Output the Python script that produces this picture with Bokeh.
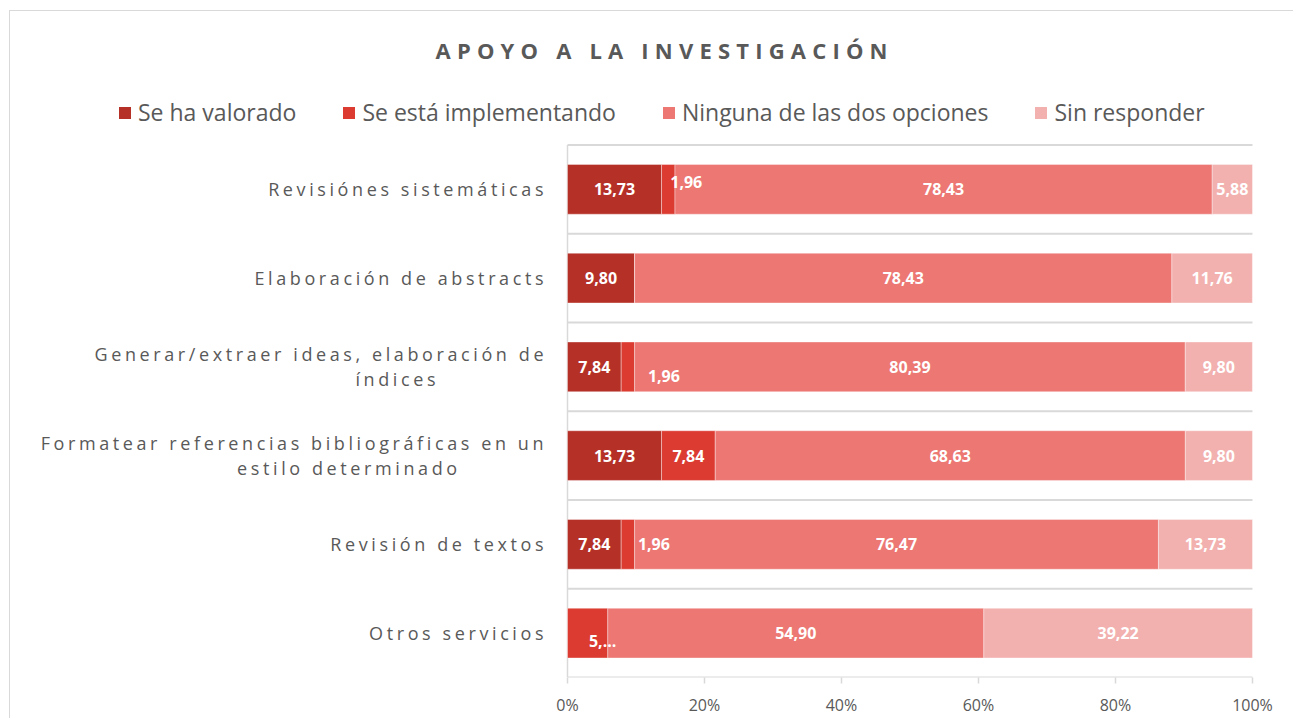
from bokeh.plotting import figure
from bokeh.layouts import column, row
from bokeh.models import Range1d, ColumnDataSource, Legend, LegendItem, FixedTicker
from bokeh.core.properties import value
from bokeh.embed import file_html
from bokeh.resources import INLINE

# ---------------- data ----------------
categories = [
    "Revisiónes sistemáticas",
    "Elaboración de abstracts",
    "Generar/extraer ideas, elaboración de\níndices",
    "Formatear referencias bibliográficas en un\nestilo determinado",
    "Revisión de textos",
    "Otros servicios",
]
series_names = ["Se ha valorado", "Se está implementando",
                "Ninguna de las dos opciones", "Sin responder"]
se_ha_valorado = [13.73, 9.80, 7.84, 13.73, 7.84, 0.0]
se_esta_implementando = [1.96, 0.0, 1.96, 7.84, 1.96, 5.88]
ninguna = [78.43, 78.43, 80.39, 68.63, 76.47, 54.90]
sin_responder = [5.88, 11.76, 9.80, 9.80, 13.73, 39.22]
tick_values = [0, 20, 40, 60, 80, 100]
tick_labels = ["0%", "20%", "40%", "60%", "80%", "100%"]
title_text = "APOYO A LA INVESTIGACIÓN"

# ---------------- styles ----------------
colors = ["#B53128", "#DB3B31", "#EC7773", "#F2B1AF"]
GRAY = "#595959"
LINE = "#D9D9D9"
FONT = "Open Sans"
LS_CAT = 3.6     # letter spacing of category labels (px)
LS_TITLE = 6.2   # letter spacing of the title (px)
# label displacement as drawn in the original: (series, row) -> (dx px, dy px)
label_shift = {(1, 0): (18, -7), (1, 2): (36, 9), (1, 4): (26, 0), (1, 5): (15, 8)}
label_text_override = {(1, 5): "5,..."}

series = [se_ha_valorado, se_esta_implementando, ninguna, sin_responder]
n = len(categories)
ypos = [n - 1 - i for i in range(n)]

ROW_H = 578
TOP_B, BOT_B = 0, 38
Y_RANGE = (-0.5, 5.5504)


def bare(**kw):
    f = figure(output_backend="svg", toolbar_location=None,
               x_axis_type=None, y_axis_type=None, **kw)
    f.outline_line_color = None
    f.xgrid.grid_line_color = None
    f.ygrid.grid_line_color = None
    return f


# ---------------- title ----------------
tfig = bare(width=1283, height=65, x_range=Range1d(0, 1), y_range=Range1d(0, 1),
            min_border_left=0, min_border_right=0, min_border_top=55, min_border_bottom=0)
tfig.styles = {"letter-spacing": f"{LS_TITLE}px"}
tfig.title.text = title_text
tfig.title.align = "left"
tfig.title.offset = 425
tfig.title.text_font = FONT
tfig.title.text_font_size = "22px"
tfig.title.text_font_style = "bold"
tfig.title.text_color = GRAY
tfig.title.standoff = 4

# ---------------- bars ----------------
p = figure(width=740, height=ROW_H, output_backend="svg", toolbar_location=None,
           x_range=Range1d(-0.292, 105.99), y_range=Range1d(*Y_RANGE),
           min_border_left=12, min_border_right=0,
           min_border_top=TOP_B, min_border_bottom=BOT_B)
p.outline_line_color = None
p.xgrid.grid_line_color = None
p.ygrid.grid_line_color = None
p.yaxis.visible = False

seps = [k - 0.5 for k in range(n + 1)]
p.segment(x0=[0] * len(seps), x1=[100] * len(seps), y0=seps, y1=seps,
          line_color=LINE, line_width=2)
p.segment(x0=[0], x1=[0], y0=[-0.5], y1=[n - 0.5], line_color=LINE, line_width=1.5)

bar_sources = []
label_sources = []
left = [0.0] * n
for si, (vals, col) in enumerate(zip(series, colors)):
    right = [l + v for l, v in zip(left, vals)]
    src = ColumnDataSource(dict(y=ypos, left=left, right=right))
    bar_sources.append(src)
    p.hbar(y="y", left="left", right="right", height=0.56, source=src,
           fill_color=col, line_color="white", line_width=0.6, line_alpha=0.6)
    lx, ly, lt, dx, dy = [], [], [], [], []
    for i in range(n):
        if vals[i] <= 0:
            continue
        lx.append((left[i] + right[i]) / 2)
        ly.append(ypos[i])
        lt.append(label_text_override.get((si, i), f"{vals[i]:.2f}".replace(".", ",")))
        sx, sy = label_shift.get((si, i), (0, 0))
        dx.append(sx)
        dy.append(sy)
    label_sources.append(ColumnDataSource(dict(x=lx, y=ly, t=lt, dx=dx, dy=dy)))
    left = right

for lsrc in label_sources:
    p.text(x="x", y="y", text="t", x_offset="dx", y_offset="dy", source=lsrc,
           text_color="white", text_font=value(FONT), text_font_style="bold",
           text_font_size="16px", text_align="center", text_baseline="middle")

ax = p.xaxis[0]
ax.ticker = FixedTicker(ticks=tick_values)
ax.major_label_overrides = {v: l for v, l in zip(tick_values, tick_labels)}
ax.axis_line_color = None
ax.major_tick_line_color = LINE
ax.major_tick_line_width = 1.5
ax.major_tick_out = 6
ax.major_tick_in = 0
ax.minor_tick_line_color = None
ax.major_label_text_font = FONT
ax.major_label_text_font_size = "16px"
ax.major_label_text_color = GRAY
ax.major_label_standoff = 10

# ---------------- category labels ----------------
cfig = bare(width=543, height=ROW_H, x_range=Range1d(0, 543), y_range=Range1d(*Y_RANGE),
            min_border_left=0, min_border_right=0,
            min_border_top=TOP_B, min_border_bottom=BOT_B)
cfig.styles = {"letter-spacing": f"{LS_CAT}px"}
first_len = [len(c.split("\n")[0]) for c in categories]
csrc = ColumnDataSource(dict(x=[533] * n, y=ypos, t=categories,
                             dx=[-(k - 1) * LS_CAT for k in first_len]))
cfig.text(x="x", y="y", text="t", x_offset="dx", source=csrc, text_color=GRAY,
          text_font=value(FONT), text_font_size="18px", text_align="right",
          text_baseline="middle", text_line_height=1.05)

# ---------------- legend (own strip; same series sources, bars lie outside its range) ----------------
lfig = bare(width=1283, height=64, x_range=Range1d(0, 1), y_range=Range1d(100, 101),
            min_border=0)
items = []
for src, col, name in zip(bar_sources, colors, series_names):
    r = lfig.hbar(y="y", left="left", right="right", height=0.56, source=src,
                  fill_color=col, line_color=None)
    items.append(LegendItem(label=name, renderers=[r]))
legend = Legend(items=items, orientation="horizontal", location=(107, 12),
                glyph_width=15, glyph_height=15, label_standoff=6, spacing=45,
                label_text_font=FONT, label_text_font_size="23px",
                label_text_color=GRAY, border_line_color=None,
                background_fill_alpha=0, padding=0, margin=0)
lfig.add_layout(legend, "center")

layout = column(tfig, lfig, row(cfig, p, spacing=0), spacing=0)
layout.styles = {"margin-left": "9px", "margin-top": "10px",
                 "border-left": "1px solid #D9D9D9", "border-top": "1px solid #D9D9D9"}

open("out.html", "w").write(file_html(layout, INLINE))
